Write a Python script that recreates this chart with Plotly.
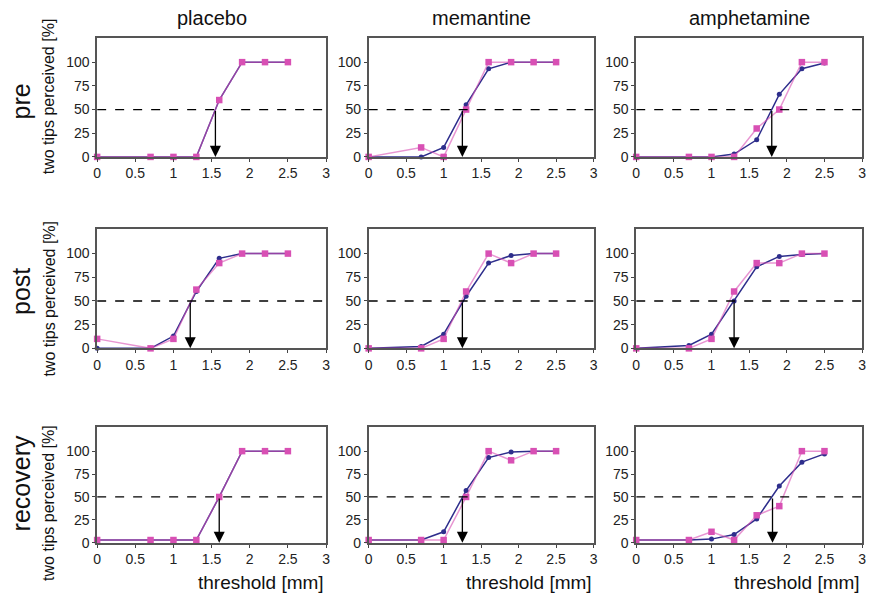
import plotly.graph_objects as go

x_vals = [0, 0.7, 1.0, 1.3, 1.6, 1.9, 2.2, 2.5]
conditions = ["placebo", "memantine", "amphetamine"]
phases = ["pre", "post", "recovery"]

# blue series (per phase, per condition)
blue = {
    ("pre", "placebo"):       [0, 0, 0, 0, 60, 100, 100, 100],
    ("pre", "memantine"):     [0, 0, 10, 55, 93, 100, 100, 100],
    ("pre", "amphetamine"):   [0, 0, 0, 3, 18, 66, 93, 99],
    ("post", "placebo"):      [0, 0, 13, 60, 95, 100, 100, 100],
    ("post", "memantine"):    [0, 2, 15, 55, 90, 98, 100, 100],
    ("post", "amphetamine"):  [0, 3, 15, 50, 86, 97, 99, 100],
    ("recovery", "placebo"):  [3, 3, 3, 3, 50, 100, 100, 100],
    ("recovery", "memantine"): [3, 3, 12, 57, 93, 99, 100, 100],
    ("recovery", "amphetamine"): [3, 3, 4, 9, 26, 62, 88, 97],
}
# pink series
pink = {
    ("pre", "placebo"):       [0, 0, 0, 0, 60, 100, 100, 100],
    ("pre", "memantine"):     [0, 10, 0, 50, 100, 100, 100, 100],
    ("pre", "amphetamine"):   [0, 0, 0, 0, 30, 50, 100, 100],
    ("post", "placebo"):      [10, 0, 10, 62, 90, 100, 100, 100],
    ("post", "memantine"):    [0, 0, 10, 60, 100, 90, 100, 100],
    ("post", "amphetamine"):  [0, 0, 10, 60, 90, 90, 100, 100],
    ("recovery", "placebo"):  [3, 3, 3, 3, 50, 100, 100, 100],
    ("recovery", "memantine"): [3, 3, 3, 50, 100, 90, 100, 100],
    ("recovery", "amphetamine"): [3, 3, 12, 3, 30, 40, 100, 100],
}
# 50% thresholds (arrow positions)
thresholds = {
    ("pre", "placebo"): 1.55, ("pre", "memantine"): 1.25, ("pre", "amphetamine"): 1.80,
    ("post", "placebo"): 1.22, ("post", "memantine"): 1.25, ("post", "amphetamine"): 1.30,
    ("recovery", "placebo"): 1.60, ("recovery", "memantine"): 1.25, ("recovery", "amphetamine"): 1.81,
}
x_ticks = [0, 0.5, 1, 1.5, 2, 2.5, 3]
x_tick_text = ["0", "0.5", "1", "1.5", "2", "2.5", "3"]
y_ticks = [0, 25, 50, 75, 100]

W, H = 880, 609
col_px = [(94, 325), (368, 595), (638, 866)]
row_px = [(38, 159), (232, 353), (433, 550)]

BLUE = "#2e2e8c"
PINK = "#d850b4"
FONT = "Liberation Sans, Arial, sans-serif"

fig = go.Figure()
annotations = []
shapes = []

for r, ph in enumerate(phases):
    for c, cond in enumerate(conditions):
        idx = r * 3 + c + 1
        xa = "x" if idx == 1 else f"x{idx}"
        ya = "y" if idx == 1 else f"y{idx}"
        fig.add_trace(go.Scatter(
            x=x_vals, y=blue[(ph, cond)], xaxis=xa, yaxis=ya, mode="lines+markers",
            line=dict(color=BLUE, width=1.5), marker=dict(color=BLUE, size=5, symbol="circle"),
            showlegend=False, cliponaxis=False))
        fig.add_trace(go.Scatter(
            x=x_vals, y=pink[(ph, cond)], xaxis=xa, yaxis=ya, mode="lines+markers",
            line=dict(color="rgba(216,80,180,0.6)", width=1.5),
            marker=dict(color=PINK, size=6.5, symbol="square"),
            showlegend=False, cliponaxis=False))
        x0, x1 = col_px[c]
        t, b = row_px[r]
        xkey = "xaxis" if idx == 1 else f"xaxis{idx}"
        ykey = "yaxis" if idx == 1 else f"yaxis{idx}"
        fig.layout[xkey] = dict(
            domain=[x0 / W, x1 / W], range=[0, 3], anchor=ya,
            tickvals=x_ticks, ticktext=x_tick_text, ticks="outside", ticklen=3,
            showline=True, linecolor="#555555", linewidth=1.5, mirror=True,
            showgrid=False, zeroline=False, tickfont=dict(size=14, color="#222", family=FONT))
        fig.layout[ykey] = dict(
            domain=[1 - b / H, 1 - t / H], range=[0, 126], anchor=xa,
            tickvals=y_ticks, ticks="outside", ticklen=3,
            showline=True, linecolor="#555555", linewidth=1.5, mirror=True,
            showgrid=False, zeroline=False, tickfont=dict(size=14, color="#222", family=FONT))
        # dashed 50% line
        shapes.append(dict(type="line", xref=xa, yref=ya, x0=0, x1=3, y0=50, y1=50,
                           line=dict(color="black", width=1.3, dash="dash")))
        # arrow
        thr = thresholds[(ph, cond)]
        annotations.append(dict(x=thr, y=0, ax=thr, ay=50, xref=xa, yref=ya, axref=xa, ayref=ya,
                                showarrow=True, arrowhead=2, arrowsize=1.7, arrowwidth=1.3,
                                arrowcolor="black", text=""))

# column titles
for c, cond in enumerate(conditions):
    x0, x1 = col_px[c]
    annotations.append(dict(text=cond, x=(x0 + x1) / 2 / W, y=1 - 18 / H, xref="paper", yref="paper",
                            xanchor="center", yanchor="middle",
                            showarrow=False, font=dict(size=20, color="#111", family=FONT)))

# row labels & y titles
row_centers = [103, 295, 490]
ytitle_centers = [98, 303, 510]
for r, ph in enumerate(phases):
    annotations.append(dict(text=ph, x=17 / W, y=1 - row_centers[r] / H, xref="paper", yref="paper",
                            xanchor="center", yanchor="middle",
                            showarrow=False, textangle=-90, font=dict(size=25, color="#111", family=FONT)))
    annotations.append(dict(text="two tips perceived [%]", x=45 / W, y=1 - ytitle_centers[r] / H,
                            xref="paper", yref="paper", showarrow=False, textangle=-90,
                            xanchor="center", yanchor="middle",
                            font=dict(size=16, color="#111", family=FONT)))

# x titles
for c in range(3):
    x0, x1 = col_px[c]
    annotations.append(dict(text="threshold [mm]", x=x1 / W, y=1 - 590 / H, xref="paper", yref="paper",
                            xanchor="right", yanchor="middle",
                            showarrow=False, font=dict(size=19, color="#111", family=FONT)))

fig.update_layout(width=W, height=H, margin=dict(l=0, r=0, t=0, b=0),
                  paper_bgcolor="white", plot_bgcolor="white",
                  annotations=annotations, shapes=shapes, showlegend=False)

fig.write_html("out.html", config={"displayModeBar": False},
               post_script="document.body.style.margin='0';document.body.style.overflow='hidden';")
